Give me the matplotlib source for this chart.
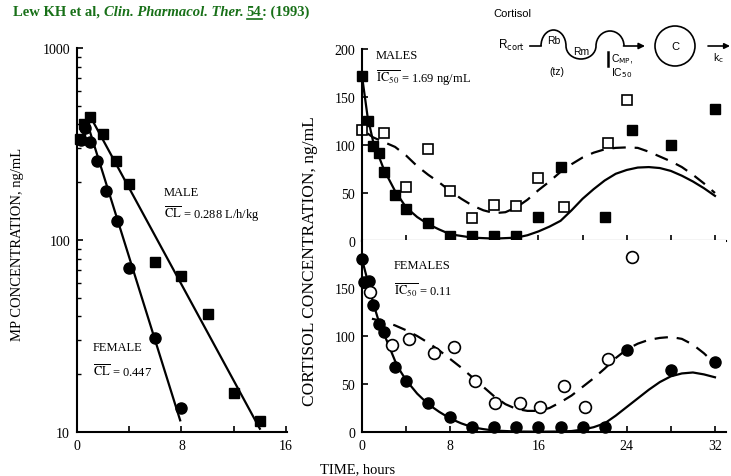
import matplotlib
matplotlib.use("Agg")
import matplotlib.pyplot as plt
import numpy as np
from matplotlib.lines import Line2D
from matplotlib.patches import Arc, Circle

# ---- data ----
# left panel: methylprednisolone (MP) plasma concentrations, ng/mL
mp_male_t = [0.2, 0.5, 1, 2, 3, 4, 6, 8, 10, 12, 14]
mp_male_c = [335, 400, 436, 357, 259, 196, 77, 65, 41, 16, 11.4]
mp_female_t = [0.3, 0.6, 1, 1.5, 2.25, 3.1, 4, 6, 8]
mp_female_c = [330, 385, 325, 259, 181, 125, 71.5, 31, 13.3]
mp_male_fit_t = [1, 14]
mp_male_fit_c = [442, 10.4]
mp_female_fit_t = [1, 7.9]
mp_female_fit_c = [365, 11.5]

# right top: cortisol, males (filled = MP treatment, open = baseline)
m_filled_t = [0, 0.5, 1, 1.5, 2, 3, 4, 6, 8, 10, 12, 14, 16, 18, 22, 24.5, 28, 32]
m_filled_c = [172, 125, 99, 92, 72, 48, 33, 19, 5, 5, 5, 5, 25, 77, 25, 116, 100, 138]
m_open_t = [0, 2, 4, 6, 8, 10, 12, 14, 16, 18.3, 22.3, 24]
m_open_c = [116, 113, 56, 96, 52, 24, 37, 36, 66, 35, 102, 147]
m_solid_t = [0, 0.5, 1, 2, 3, 4, 5, 6, 7, 8, 10, 12, 14, 15, 16, 17, 18, 19, 20,
             21, 22, 23, 24, 25, 26, 27, 28, 29, 30, 31, 32]
m_solid_c = [172, 130, 104, 74, 52, 35, 25, 17.5, 12, 7, 3.5, 2.5, 3.5, 6, 10, 15, 21,
             32, 44, 54, 63, 70, 74, 76.5, 77, 76, 73, 68, 62, 55, 47]
m_dash_t = [0.5, 1, 2, 3, 4, 5, 6, 7, 8, 9, 10, 11, 12, 13, 14, 15, 16, 17, 18, 19,
            20, 21, 22, 23, 24, 25, 26, 27, 28, 29, 30, 31, 32]
m_dash_c = [112, 108, 103, 98, 89, 78, 69, 61, 52, 44, 37, 32, 29, 30, 35, 43, 53,
            62, 72, 80, 87, 92, 95.5, 97, 97.5, 97, 93, 88, 83, 77, 69, 60, 50]

# right bottom: cortisol, females
f_filled_t = [0, 0.2, 0.6, 1, 1.5, 2, 3, 4, 6, 8, 10, 12, 14, 16, 18, 20, 22, 24, 28, 32]
f_filled_c = [180, 156, 157, 132, 112, 104, 68, 53, 30, 16, 5, 5, 5, 5, 5, 5, 5, 85, 65, 73]
f_open_t = [0.7, 2.7, 4.3, 6.5, 8.3, 10.2, 12.1, 14.3, 16.1, 18.3, 20.2, 22.3, 24.5]
f_open_c = [146, 91, 97, 82, 89, 53, 30, 30, 26, 48, 26, 76, 182]
f_solid_t = [0, 0.5, 1, 1.5, 2, 2.5, 3, 3.5, 4, 5, 6, 7, 8, 9, 10, 11, 12, 14, 16, 18,
             19, 20, 21, 22, 23, 24, 25, 26, 27, 28, 29, 30, 31, 32]
f_solid_c = [180, 158, 135, 116, 102, 88, 74, 63, 54, 40, 29, 21, 14, 9, 5, 3, 1.5, 0.5,
             0.3, 0.5, 1, 2.5, 5, 9, 17, 26, 35, 44, 52, 58, 61, 62, 60, 57]
f_dash_t = [0.9, 2, 3, 4, 5, 6, 7, 8, 9, 10, 11, 12, 13, 14, 15, 16, 17, 18, 19, 20,
            21, 22, 23, 24, 25, 26, 27, 28, 29, 30, 31, 32]
f_dash_c = [118, 115, 111, 106, 100, 93, 85, 76, 67, 57, 47, 37, 29, 24, 22, 22, 25,
            31, 38, 47, 56, 66, 77, 86, 92, 96, 98, 99, 97, 91, 82, 71]

W, H = 731, 477
GREEN = "#187018"

plt.rcParams["font.family"] = ["Liberation Serif", "DejaVu Serif"]
plt.rcParams["mathtext.fontset"] = "stix"


def fx(px):
    return px / W


def fy(py):
    return 1 - py / H


def style_axes(ax):
    for side in ("top", "right"):
        ax.spines[side].set_visible(False)
    for side in ("left", "bottom"):
        ax.spines[side].set_linewidth(1.5)
    ax.tick_params(which="major", direction="in", length=4, width=1.2, labelsize=10, pad=5)
    ax.tick_params(which="minor", direction="in", length=3, width=1)


fig = plt.figure(figsize=(W / 100, H / 100), dpi=100)

# ---- left panel: MP concentrations (log scale) ----
ax_mp = fig.add_axes([fx(77), fy(433), (287 - 77) / W, (433 - 49) / H])
style_axes(ax_mp)
ax_mp.set_yscale("log")
ax_mp.set_ylim(10, 1000)
ax_mp.set_xlim(0, 16.08)
ax_mp.set_yticks([10, 100, 1000])
ax_mp.set_yticklabels(["10", "100", "1000"])
ax_mp.yaxis.set_minor_formatter(matplotlib.ticker.NullFormatter())
ax_mp.set_xticks([0, 4, 8, 12, 16])
ax_mp.set_xticklabels(["0", "", "8", "", "16"])
ax_mp.plot(mp_male_fit_t, mp_male_fit_c, color="k", lw=1.6)
ax_mp.plot(mp_female_fit_t, mp_female_fit_c, color="k", lw=1.6)
ax_mp.plot(mp_male_t, mp_male_c, "s", color="k", ms=7, clip_on=False)
ax_mp.plot(mp_female_t, mp_female_c, "o", color="k", ms=8, clip_on=False)
ax_mp.text(0.414, 0.625, "MALE", transform=ax_mp.transAxes, fontsize=9, va="center")
ax_mp.text(0.414, 0.568, r"$\overline{\mathrm{CL}}$ = 0.288 L/h/kg",
           transform=ax_mp.transAxes, fontsize=9, va="center")
ax_mp.text(0.076, 0.221, "FEMALE", transform=ax_mp.transAxes, fontsize=9, va="center")
ax_mp.text(0.076, 0.159, r"$\overline{\mathrm{CL}}$ = 0.447",
           transform=ax_mp.transAxes, fontsize=9, va="center")

# ---- right panels: cortisol ----
ax_m = fig.add_axes([fx(362), fy(242), (726 - 362) / W, (242 - 50) / H])
ax_f = fig.add_axes([fx(362), fy(433), (726 - 362) / W, (433 - 241) / H])
for ax in (ax_m, ax_f):
    style_axes(ax)
    ax.set_xlim(0, 33)
    ax.set_ylim(0, 200)
    ax.set_xticks(np.arange(0, 33, 4))

ax_m.set_yticks([0, 50, 100, 150, 200])
ax_m.tick_params(labelbottom=False)
ax_f.set_yticks([0, 50, 100, 150])
ax_f.set_xticklabels(["0", "", "8", "", "16", "", "24", "", "32"])

ax_m.plot(m_solid_t, m_solid_c, color="k", lw=1.6)
ax_m.plot(m_dash_t, m_dash_c, color="k", lw=1.6, dashes=(6, 4))
ax_m.plot(m_filled_t, m_filled_c, "s", color="k", ms=7, clip_on=False)
ax_m.plot(m_open_t, m_open_c, "s", mfc="white", mec="k", mew=1.2, ms=7.5, clip_on=False)
ax_m.text(0.038, 0.969, "MALES", transform=ax_m.transAxes, fontsize=9, va="center")
ax_m.text(0.038, 0.85, r"$\overline{\mathrm{IC}_{50}}$ = 1.69 ng/mL",
          transform=ax_m.transAxes, fontsize=9, va="center")

ax_f.plot(f_solid_t, f_solid_c, color="k", lw=1.6)
ax_f.plot(f_dash_t, f_dash_c, color="k", lw=1.6, dashes=(6, 4))
ax_f.plot(f_filled_t, f_filled_c, "o", color="k", ms=8, clip_on=False)
ax_f.plot(f_open_t, f_open_c, "o", mfc="white", mec="k", mew=1.2, ms=8.5, clip_on=False)
ax_f.text(0.088, 0.87, "FEMALES", transform=ax_f.transAxes, fontsize=9, va="center")
ax_f.text(0.088, 0.745, r"$\overline{\mathrm{IC}_{50}}$ = 0.11",
          transform=ax_f.transAxes, fontsize=9, va="center")

# axis titles
fig.text(fx(18), fy(244), "MP CONCENTRATION, ng/mL", rotation=90, fontsize=10.5,
         ha="center", va="center")
fig.text(fx(310), fy(261), "CORTISOL CONCENTRATION, ng/mL", rotation=90, fontsize=12.5,
         ha="center", va="center")
fig.text(fx(358), fy(470), "TIME, hours", fontsize=10.5, ha="center", va="center")

# ---- citation line, pieces chained left to right ----
t1 = fig.text(fx(13), fy(12), "Lew KH et al, ", fontsize=10.5, fontweight="bold",
              color=GREEN, va="center")
t2 = fig.text(0, 0, "Clin. Pharmacol. Ther. ", fontsize=10.5, fontweight="bold",
              fontstyle="italic", color=GREEN, va="center")
t3 = fig.text(0, 0, "54", fontsize=10.5, fontweight="bold", color=GREEN, va="center")
t4 = fig.text(0, 0, ": (1993)", fontsize=10.5, fontweight="bold", color=GREEN, va="center")
renderer = fig.canvas.get_renderer()
prev = t1
for t in (t2, t3, t4):
    bb = prev.get_window_extent(renderer)
    t.set_position((bb.x1 / fig.bbox.width, fy(12)))
    prev = t
bb3 = t3.get_window_extent(renderer)
fig.add_artist(Line2D([bb3.x0 / fig.bbox.width, bb3.x1 / fig.bbox.width],
                      [fy(19.5), fy(19.5)], color=GREEN, lw=1.2))

# ---- model schematic (pixel coordinates of the picture) ----
ov = fig.add_axes([0, 0, 1, 1])
ov.set_xlim(0, W)
ov.set_ylim(H, 0)
ov.axis("off")
ov.patch.set_alpha(0)
sans = dict(fontfamily="Liberation Sans", math_fontfamily="dejavusans", color="k")
ov.text(493, 14, "Cortisol", fontsize=8, va="center", **sans)
ov.text(498, 45, r"R$_{\mathrm{cort}}$", fontsize=8.5, va="center", **sans)
ov.plot([530, 541], [47, 47], color="k", lw=1.2)
ov.add_patch(Arc((553.5, 47), 25, 32, theta1=180, theta2=360, lw=1.2, color="k"))
ov.add_patch(Arc((581, 47), 30, 26, theta1=0, theta2=180, lw=1.2, color="k"))
ov.add_patch(Arc((610, 47), 28, 30, theta1=180, theta2=360, lw=1.2, color="k"))
ov.annotate("", xy=(645, 47), xytext=(623.5, 47),
            arrowprops=dict(arrowstyle="-|>", lw=1.2, color="k", mutation_scale=9,
                            shrinkA=0, shrinkB=0))
ov.text(553.5, 41, "Rb", fontsize=7.5, ha="center", va="center", **sans)
ov.text(581, 52, "Rm", fontsize=7.5, ha="center", va="center", **sans)
ov.text(557, 72, "(tz)", fontsize=7.5, ha="center", va="center", **sans)
ov.plot([607.5, 607.5], [53, 67], color="k", lw=1.8)
ov.text(611, 59, r"C$_{\mathrm{MP}}$,", fontsize=7.5, va="center", **sans)
ov.text(611, 73, r"IC$_{50}$", fontsize=7.5, va="center", **sans)
ov.add_patch(Circle((675, 47), 20, fill=False, lw=1.2, color="k"))
ov.text(675, 47, "C", fontsize=8, ha="center", va="center", **sans)
ov.annotate("", xy=(730, 47), xytext=(708, 47),
            arrowprops=dict(arrowstyle="-|>", lw=1.2, color="k", mutation_scale=8,
                            shrinkA=0, shrinkB=0))
ov.text(718, 58, r"k$_{\mathrm{c}}$", fontsize=7.5, ha="center", va="center", **sans)

fig.savefig("out.png", dpi=100)
